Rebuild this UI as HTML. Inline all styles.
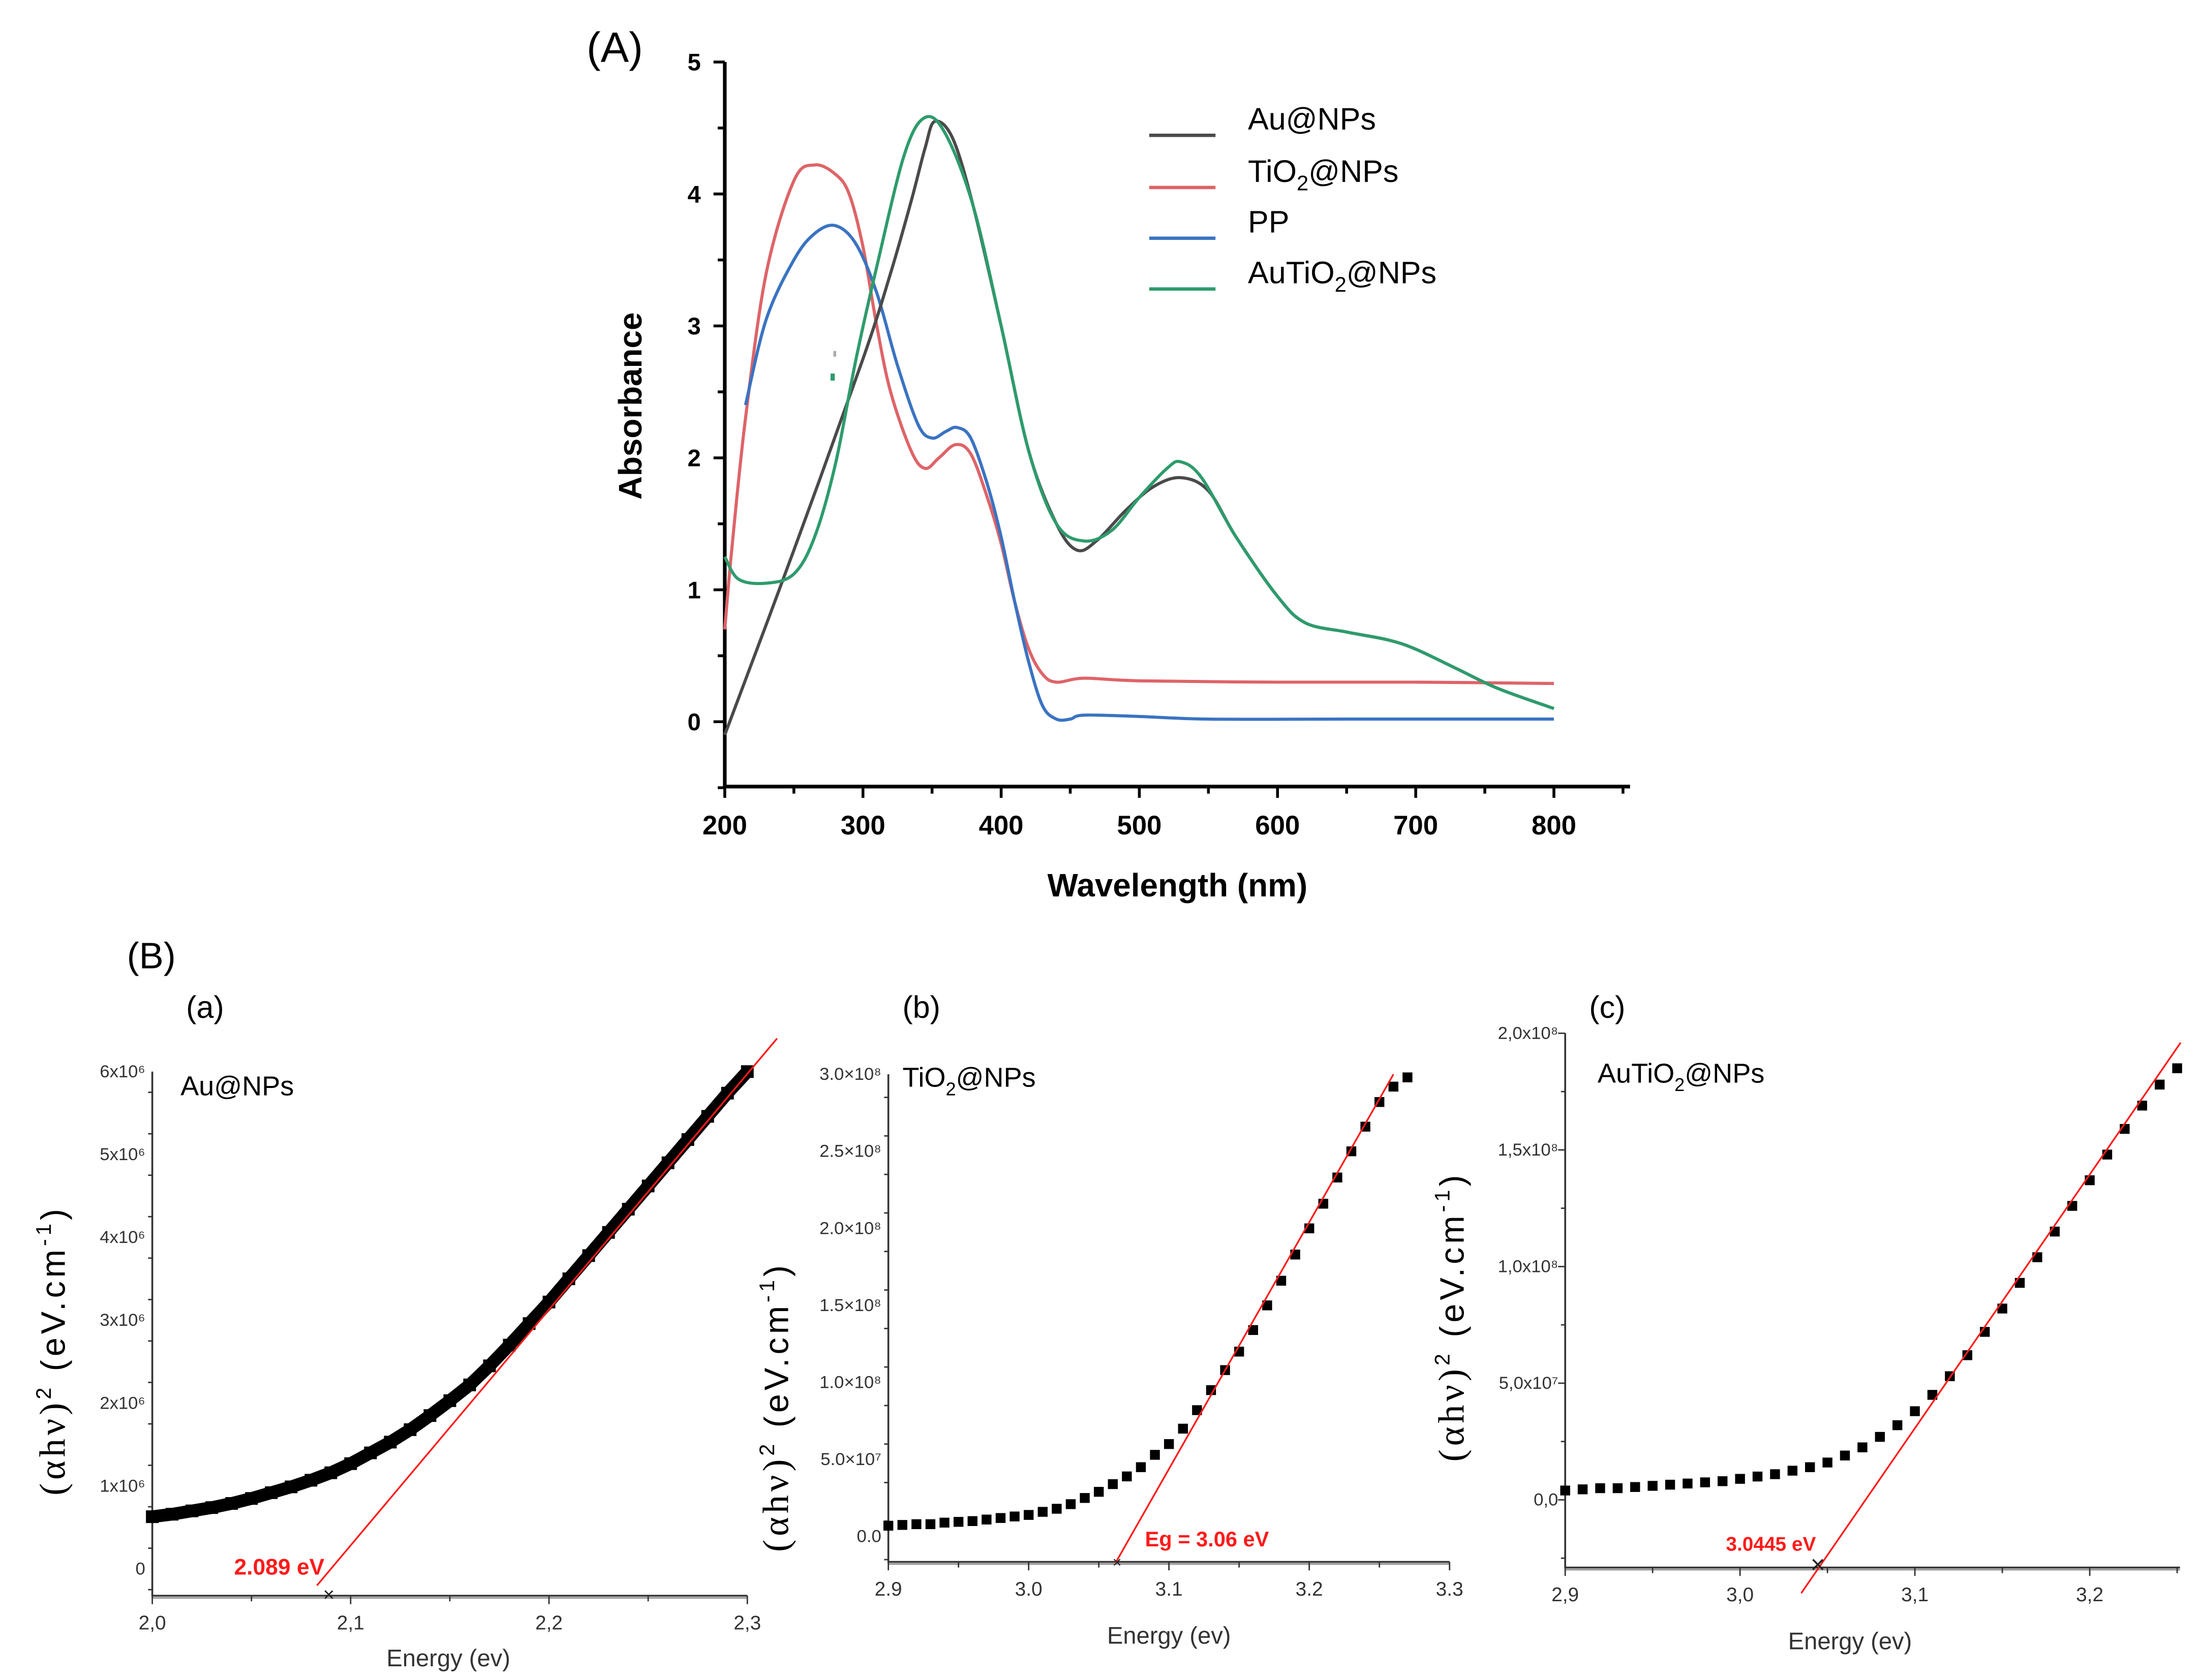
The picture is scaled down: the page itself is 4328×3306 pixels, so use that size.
<!DOCTYPE html>
<html><head><meta charset="utf-8"><style>
html,body{margin:0;padding:0;background:#fff}
svg{display:block}
text{font-family:"Liberation Sans",sans-serif}
</style></head><body>
<svg id="fig" xmlns="http://www.w3.org/2000/svg" width="4328" height="3306" viewBox="0 0 1560.2 1191.8" preserveAspectRatio="none">
<rect x="0" y="0" width="1560.2" height="1191.8" fill="#fff"/>
<text x="416" y="44" font-size="30">(A)</text>
<text x="90" y="687" font-size="26">(B)</text>
<text x="132" y="722" font-size="22">(a)</text>
<text x="640" y="722" font-size="22">(b)</text>
<text x="1127" y="722" font-size="22">(c)</text>
<g id="gA"></g><g id="ga"></g><g id="gb"></g><g id="gc"></g>
</svg>
<script>
// ===== Chart A data =====
const auWl=[200,250,300,320,335,345,352,365,380,400,420,440,455,470,490,510,530,550,570,600,620,650,680,700,730,760,800];
const auAbs=[-0.1,1.3,2.75,3.4,3.95,4.35,4.55,4.42,3.9,3.0,2.05,1.5,1.3,1.38,1.6,1.78,1.85,1.75,1.4,0.95,0.75,0.68,0.62,0.55,0.4,0.25,0.1];
const tiWl=[200,205,215,230,250,265,280,290,300,310,320,335,345,355,367,378,390,400,410,420,430,440,460,500,600,700,800];
const tiAbs=[0.7,1.3,2.3,3.4,4.1,4.22,4.15,4.0,3.6,3.0,2.5,2.05,1.92,2.0,2.1,2.03,1.7,1.35,0.9,0.55,0.36,0.3,0.33,0.31,0.3,0.3,0.29];
const ppWl=[215,230,250,265,280,295,310,325,340,350,360,368,378,390,400,410,420,430,440,450,460,500,550,650,800];
const ppAbs=[2.4,3.05,3.5,3.7,3.76,3.62,3.25,2.7,2.25,2.15,2.2,2.23,2.15,1.8,1.4,0.9,0.45,0.12,0.02,0.02,0.05,0.04,0.02,0.02,0.02];
const atWl=[200,210,230,250,265,280,295,310,330,345,360,380,400,420,440,460,480,500,520,530,545,570,600,620,650,680,700,730,760,800];
const atAbs=[1.25,1.08,1.05,1.12,1.4,1.95,2.75,3.45,4.3,4.58,4.45,3.9,3.0,2.05,1.5,1.37,1.45,1.7,1.92,1.97,1.85,1.4,0.95,0.75,0.68,0.62,0.55,0.4,0.25,0.1];
const aXTicks=[200,300,400,500,600,700,800];
const aYTicks=[0,1,2,3,4,5];
// ===== Panel (a) =====
const paE=[2.00,2.01,2.02,2.03,2.04,2.05,2.06,2.07,2.08,2.09,2.10,2.11,2.12,2.13,2.14,2.15,2.16,2.17,2.18,2.19,2.20,2.21,2.22,2.23,2.24,2.25,2.26,2.27,2.28,2.29,2.30];
const paV=[0.63,0.66,0.70,0.74,0.79,0.85,0.92,0.99,1.07,1.16,1.27,1.40,1.53,1.68,1.85,2.03,2.22,2.45,2.70,2.96,3.22,3.50,3.78,4.06,4.34,4.62,4.90,5.18,5.46,5.74,6.0];
const paFit=[[2.083,-0.2],[2.315,6.4]];
const paXTicks=[2.0,2.1,2.2,2.3];
const paXLabels=["2,0","2,1","2,2","2,3"];
const paYTicks=[0,1,2,3,4,5,6];
// ===== Panel (b) =====
const pbE=[2.90,2.91,2.92,2.93,2.94,2.95,2.96,2.97,2.98,2.99,3.00,3.01,3.02,3.03,3.04,3.05,3.06,3.07,3.08,3.09,3.10,3.11,3.12,3.13,3.14,3.15,3.16,3.17,3.18,3.19,3.20,3.21,3.22,3.23,3.24,3.25,3.26,3.27];
const pbV=[0.07,0.075,0.08,0.08,0.09,0.095,0.10,0.11,0.12,0.13,0.14,0.16,0.18,0.21,0.25,0.29,0.34,0.39,0.45,0.53,0.60,0.70,0.82,0.95,1.08,1.20,1.34,1.50,1.66,1.83,2.00,2.16,2.33,2.50,2.66,2.82,2.92,2.98];
const pbFit=[[3.062,-0.17],[3.26,3.0]];
const pbXTicks=[2.9,3.0,3.1,3.2,3.3];
const pbXLabels=["2.9","3.0","3.1","3.2","3.3"];
const pbYTicks=[0,0.5,1.0,1.5,2.0,2.5,3.0];
const pbYLabels=["0.0","5.0×10⁷","1.0×10⁸","1.5×10⁸","2.0×10⁸","2.5×10⁸","3.0×10⁸"];
// ===== Panel (c) =====
const pcE=[2.90,2.91,2.92,2.93,2.94,2.95,2.96,2.97,2.98,2.99,3.00,3.01,3.02,3.03,3.04,3.05,3.06,3.07,3.08,3.09,3.10,3.11,3.12,3.13,3.14,3.15,3.16,3.17,3.18,3.19,3.20,3.21,3.22,3.23,3.24,3.25];
const pcV=[0.04,0.045,0.05,0.05,0.055,0.06,0.065,0.07,0.075,0.08,0.09,0.10,0.11,0.125,0.14,0.16,0.19,0.225,0.27,0.32,0.38,0.45,0.53,0.62,0.72,0.82,0.93,1.04,1.15,1.26,1.37,1.48,1.59,1.69,1.78,1.85];
const pcFit=[[3.035,-0.4],[3.252,1.96]];
const pcXTicks=[2.9,3.0,3.1,3.2];
const pcXLabels=["2,9","3,0","3,1","3,2"];
const pcYTicks=[0,0.5,1.0,1.5,2.0];
const pcYLabels=["0,0","5,0x10⁷","1,0x10⁸","1,5x10⁸","2,0x10⁸"];

const NS="http://www.w3.org/2000/svg";
function mk(parent,tag,attrs,txt){const e=document.createElementNS(NS,tag);for(const k in attrs)e.setAttribute(k,attrs[k]);if(txt!==undefined)e.textContent=txt;parent.appendChild(e);return e;}
function smooth(pts){let d="M"+pts[0][0].toFixed(2)+","+pts[0][1].toFixed(2);for(let i=0;i<pts.length-1;i++){const p0=pts[Math.max(0,i-1)],p1=pts[i],p2=pts[i+1],p3=pts[Math.min(pts.length-1,i+2)];const c1=[p1[0]+(p2[0]-p0[0])/6,p1[1]+(p2[1]-p0[1])/6],c2=[p2[0]-(p3[0]-p1[0])/6,p2[1]-(p3[1]-p1[1])/6];d+=" C"+c1.map(v=>v.toFixed(2))+" "+c2.map(v=>v.toFixed(2))+" "+p2[0].toFixed(2)+","+p2[1].toFixed(2);}return d;}

// ---- Chart A ----
(function(){
const g=document.getElementById('gA');
const X=w=>514+(w-200)*(1102-514)/600, Y=a=>512-a*93.6;
let ax=mk(g,'path',{d:`M514,44 L514,558 L1156,558`,fill:'none',stroke:'#000','stroke-width':2.6});

for(let v=-0.5;v<=5.01;v+=0.5){mk(g,'line',{x1:514,x2:Number.isInteger(v)?506:509,y1:Y(v),y2:Y(v),stroke:'#000','stroke-width':2});}
aYTicks.forEach(v=>{const t=mk(g,'text',{x:497,y:Y(v)+6,'font-size':17,'font-weight':'bold','text-anchor':'end'},String(v));});
for(let w=200;w<=850;w+=50){mk(g,'line',{x1:X(w),x2:X(w),y1:558,y2:w%100==0?566:563,stroke:'#000','stroke-width':2});}
aXTicks.forEach(v=>{const t=mk(g,'text',{x:X(v),y:592,'font-size':19,'font-weight':'bold','text-anchor':'middle'},String(v));});
let t=mk(g,'text',{x:835,y:636,'font-size':23,'font-weight':'bold','text-anchor':'middle'},'Wavelength (nm)');
t=mk(g,'text',{x:0,y:0,'font-size':23,'font-weight':'bold','text-anchor':'middle',transform:'translate(455,288) rotate(-90)'},'Absorbance');
const series=[[tiWl,tiAbs,'#de6468','series-tio2'],[ppWl,ppAbs,'#3a73c2','series-pp'],[auWl,auAbs,'#4a4a4a','series-au'],[atWl,atAbs,'#2e9b6c','series-autio2']];
series.forEach(s=>{const p=mk(g,'path',{d:smooth(s[0].map((w,i)=>[X(w),Y(s[1][i])])),fill:'none',stroke:s[2],'stroke-width':2.2});});
mk(g,'rect',{x:589,y:265,width:3,height:5,fill:'#2e9b6c'});mk(g,'rect',{x:591,y:249,width:2,height:4,fill:'#aaa'});
const leg=[['Au@NPs','#4a4a4a',84],['TiO|@NPs','#de6468',121],['PP','#3a73c2',157],['AuTiO|@NPs','#2e9b6c',193]];
leg.forEach(l=>{const lg=mk(g,'g',{});
mk(lg,'line',{x1:815,x2:862,y1:l[2]+12,y2:l[2]+12,stroke:l[1],'stroke-width':2.4});
const tx=mk(lg,'text',{x:885,y:l[2]+8,'font-size':22});const parts=l[0].split('|');
if(parts.length==1){tx.textContent=parts[0];}else{mk(tx,'tspan',{},parts[0]);mk(tx,'tspan',{dy:6,'font-size':15},'2');mk(tx,'tspan',{dy:-6},parts[1]);}});
})();

// ---- Panels B ----
function panel(gid,cfg){
const g=document.getElementById(gid);
const X=e=>cfg.x0+(e-cfg.e0)*(cfg.x1-cfg.x0)/(cfg.e1-cfg.e0);
const Y=v=>cfg.yz-v*cfg.ys;
const ax=mk(g,'path',{d:`M${cfg.x0},${Y(cfg.ytop)} L${cfg.x0},${cfg.yb} L${cfg.xend},${cfg.yb}`,fill:'none',stroke:'#333','stroke-width':1.3});

mk(g,'line',{x1:cfg.x0,x2:cfg.xend,y1:cfg.yb+1.5,y2:cfg.yb+1.5,stroke:'#999','stroke-width':1.2});
for(let v=cfg.ymin;v<=cfg.ytop+1e-6;v+=cfg.ystep/2){const maj=Math.abs(v/cfg.ystep-Math.round(v/cfg.ystep))<1e-6;mk(g,'line',{x1:cfg.x0,x2:cfg.x0-(maj?5:3),y1:Y(v),y2:Y(v),stroke:'#333','stroke-width':1});}
for(let e=cfg.e0;e<=cfg.eend+1e-6;e+=cfg.estep/2){mk(g,'line',{x1:X(e),x2:X(e),y1:cfg.yb,y2:cfg.yb+(Math.abs(e/cfg.estep-Math.round(e/cfg.estep))<1e-6?6:4),stroke:'#333','stroke-width':1});}
cfg.yt.forEach((v,i)=>{const t=mk(g,'text',{x:cfg.x0-5,y:Y(v)+4,'font-size':12.5,'text-anchor':'end',fill:'#333'},cfg.yl[i]);});
cfg.xt.forEach((v,i)=>{const t=mk(g,'text',{x:X(v),y:cfg.yb+24,'font-size':14,'text-anchor':'middle',fill:'#333'},cfg.xl[i]);});
let t=mk(g,'text',{x:cfg.etx,y:cfg.ety,'font-size':17,'text-anchor':'middle',fill:'#333'},'Energy (ev)');
t=mk(g,'text',{x:0,y:0,'font-size':24,'letter-spacing':2.5,'text-anchor':'middle',transform:`translate(${cfg.ytx},${cfg.yty}) rotate(-90)`});
mk(t,'tspan',{'font-family':'Liberation Serif, serif','font-size':26},'(αhν)');mk(t,'tspan',{dy:-10,'font-size':15},'2');mk(t,'tspan',{dy:10},' (eV.cm');mk(t,'tspan',{dy:-10,'font-size':15},'-1');mk(t,'tspan',{dy:10},')');
t=mk(g,'text',{x:cfg.nx,y:cfg.ny,'font-size':19.5});
const np=cfg.name.split('|');if(np.length==1)t.textContent=np[0];else{mk(t,'tspan',{},np[0]);mk(t,'tspan',{dy:6,'font-size':13},'2');mk(t,'tspan',{dy:-6},np[1]);}
const pts=cfg.E.map((e,i)=>[X(e),Y(cfg.V[i])]);
if(cfg.band){const pl=mk(g,'polyline',{points:pts.map(p=>p.join(',')).join(' '),fill:'none',stroke:'#000','stroke-width':cfg.ms});}
pts.forEach(p=>{const r=mk(g,'rect',{x:p[0]-cfg.ms/2,y:p[1]-cfg.ms/2,width:cfg.ms,height:cfg.ms,fill:'#000'});});
const f=mk(g,'line',{x1:X(cfg.fit[0][0]),y1:Y(cfg.fit[0][1]),x2:X(cfg.fit[1][0]),y2:Y(cfg.fit[1][1]),stroke:'#ff1a1a','stroke-width':1.2});
t=mk(g,'text',{x:cfg.lx,y:cfg.ly,'font-size':cfg.lfs,'font-weight':'bold',fill:'#ff1a1a'},cfg.lab);
t=mk(g,'text',{x:X(cfg.eg),y:cfg.yb+4,'font-size':cfg.xs,'text-anchor':'middle',fill:'#222'},'×');
}
panel('ga',{x0:108,x1:530,e0:2.0,e1:2.3,eend:2.3,estep:0.1,xend:530,yz:1113,ys:58.8,ymin:-0.25,ytop:6,ystep:1,yb:1132,
 yt:paYTicks,yl:["0","1x10⁶","2x10⁶","3x10⁶","4x10⁶","5x10⁶","6x10⁶"],xt:paXTicks,xl:paXLabels,
 etx:318,ety:1182,ytx:46,yty:958,nx:128,ny:777,name:'Au@NPs',E:paE,V:paV,ms:9,band:true,fit:paFit,lab:'2.089 eV',lx:166,ly:1117,lfs:16,eg:2.089,xs:14});
panel('gb',{x0:630,x1:1028,e0:2.9,e1:3.3,eend:3.3,estep:0.1,xend:1028,yz:1090,ys:109.3,ymin:-0.15,ytop:3.0,ystep:0.5,yb:1108,
 yt:pbYTicks,yl:pbYLabels,xt:pbXTicks,xl:pbXLabels,
 etx:829,ety:1166,ytx:559,yty:998,nx:640,ny:771,name:'TiO|@NPs',E:pbE,V:pbV,ms:7,band:false,fit:pbFit,lab:'Eg = 3.06 eV',lx:812,ly:1097,lfs:15,eg:3.063,xs:11});
panel('gc',{x0:1110,x1:1234,e0:2.9,e1:3.0,eend:3.25,estep:0.1,xend:1546,yz:1064,ys:165.5,ymin:-0.25,ytop:2.0,ystep:0.5,yb:1112,
 yt:pcYTicks,yl:pcYLabels,xt:pcXTicks,xl:pcXLabels,
 etx:1312,ety:1170,ytx:1038,yty:934,nx:1133,ny:768,name:'AuTiO|@NPs',E:pcE,V:pcV,ms:7,band:false,fit:pcFit,lab:'3.0445 eV',lx:1224,ly:1100,lfs:14,eg:3.0445,xs:18});
</script>
</body></html>
